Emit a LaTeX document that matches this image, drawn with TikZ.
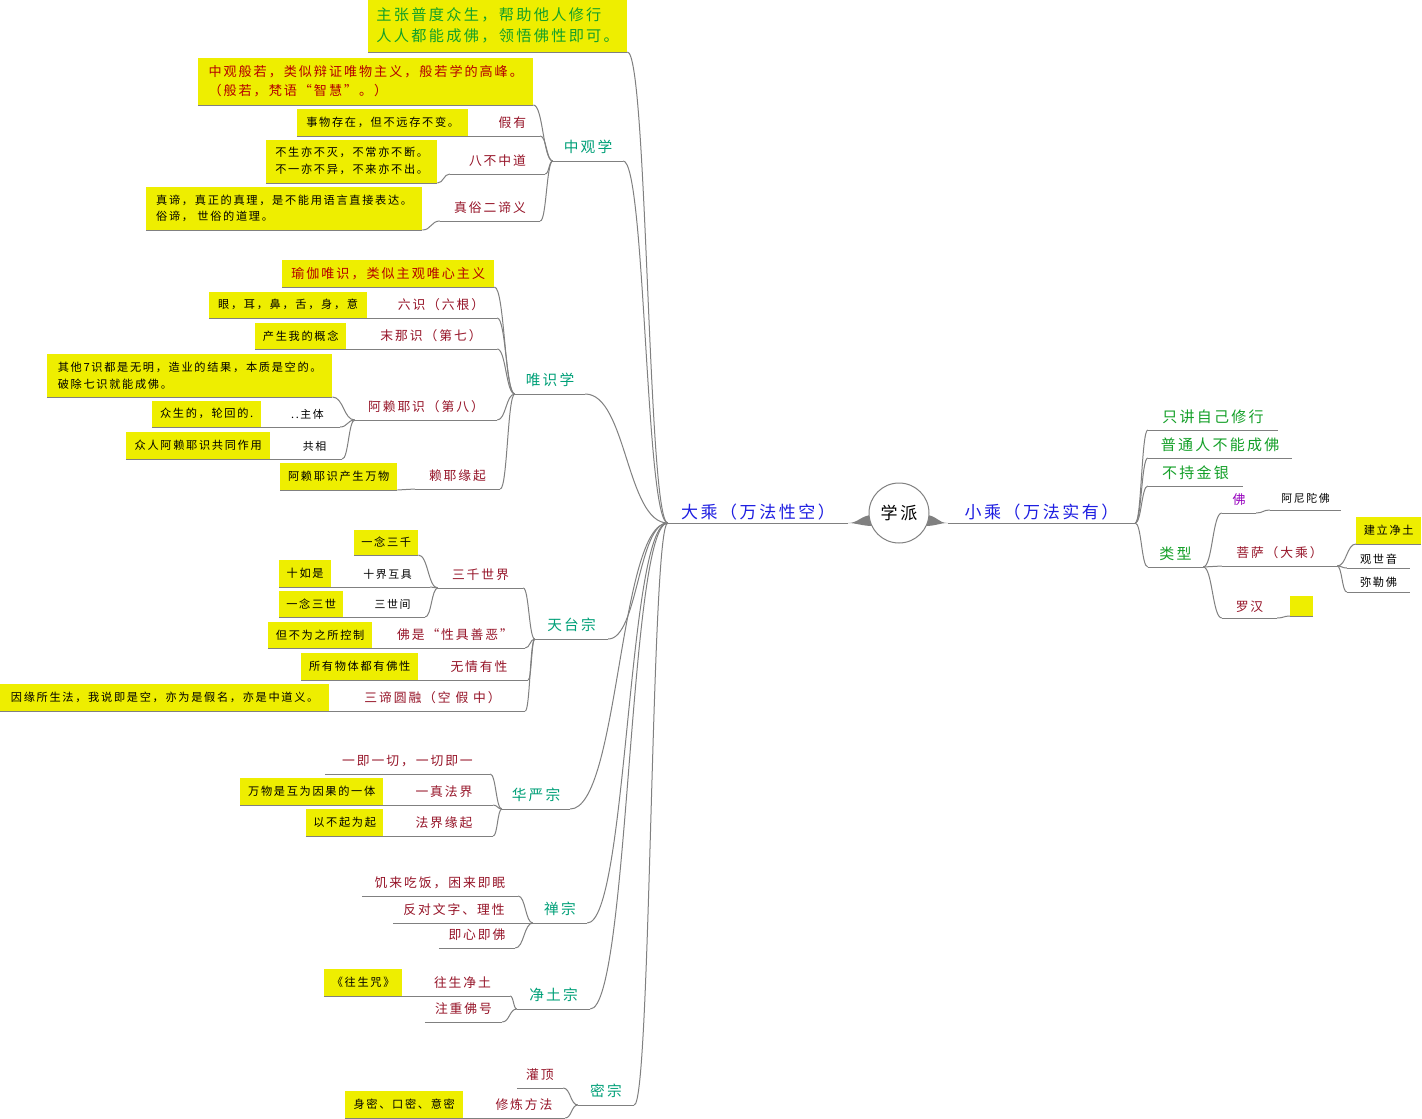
\documentclass[tikz,border=0pt]{standalone}
\usepackage{fontspec}
\setmainfont{Noto Sans CJK SC}[LetterSpace=15]
\usetikzlibrary{calc,backgrounds}

\definecolor{linegray}{RGB}{128,128,128}
\definecolor{boxyellow}{RGB}{238,238,0}
\definecolor{bluetxt}{RGB}{30,30,225}
\definecolor{tealtxt}{RGB}{0,160,120}
\definecolor{maroontxt}{RGB}{150,20,40}
\definecolor{redtxt}{RGB}{180,0,0}
\definecolor{greentxt}{RGB}{20,160,40}
\definecolor{purpletxt}{RGB}{150,0,190}

\newcommand\fsz[1]{\fontsize{#1}{#1}\selectfont}
% curved branch from the end of one underline to the start of the next
\newcommand\tie[2]{\draw[conn] let \p1=(#1), \p2=(#2), \n1={0.5*(\x2-\x1)} in (\p1) .. controls +(\n1,0) and +(-\n1,0) .. (\p2);}

\tikzset{
  conn/.style={draw=linegray, line width=1pt},
  root/.style={circle, draw=linegray, line width=1pt, fill=white, minimum size=60pt, inner sep=0pt, font=\fsz{17}},
  lvlone/.style={anchor=south, inner sep=0pt, minimum height=22pt, text=bluetxt, font=\fsz{17}},
  lvltwo/.style={anchor=south, inner sep=0pt, minimum height=28pt, text=tealtxt, font=\fsz{14.7}},
  lvlthree/.style={anchor=south, inner sep=0pt, minimum height=26pt, text=maroontxt, font=\fsz{12.8}},
  lvlfour/.style={anchor=south, inner sep=0pt, minimum height=24pt, text=black, font=\fsz{10.9}},
  rgreen/.style={anchor=south, inner sep=0pt, minimum height=26pt, text=greentxt, font=\fsz{15}},
  note/.style={anchor=south west, inner sep=0pt, fill=boxyellow, text=black, font=\fsz{11.2}, align=left},
}

\begin{document}
\begin{tikzpicture}[x=1pt,y=-1pt]
\useasboundingbox (0,0) rectangle (1422,1119);

% centre
\node[root] (root) at (899,513) {学派};
\node[lvlone, minimum width=180pt] (dc) at (758,523) {大乘（万法性空）};
\node[lvlone, minimum width=187pt] (xc) at (1041.5,523) {小乘（万法实有）};

% schools of the Mahayana
\node[note, minimum width=259pt, minimum height=52pt, text=greentxt, font=\fontsize{15.2}{21}\selectfont] (b1) at (368,52) {主张普度众生，帮助他人修行\\人人都能成佛，领悟佛性即可。};
\node[lvltwo, minimum width=70pt] (zg) at (588,161) {中观学};
\node[lvltwo, minimum width=70pt] (wsx) at (550,394) {唯识学};
\node[lvltwo, minimum width=73pt] (tt) at (571.5,639) {天台宗};
\node[lvltwo, minimum width=68pt] (hy) at (536,809) {华严宗};
\node[lvltwo, minimum width=54pt] (cz) at (560,923) {禅宗};
\node[lvltwo, minimum width=73pt] (jt) at (553.5,1009) {净土宗};
\node[lvltwo, minimum width=56pt] (mz) at (606,1105) {密宗};

% Madhyamaka
\node[note, minimum width=335pt, minimum height=47pt, text=redtxt, font=\fontsize{13.1}{19}\selectfont] (b2) at (198,105) {中观般若，类似辩证唯物主义，般若学的高峰。\\（般若，梵语“智慧”。）};
\node[lvlthree, minimum width=55pt] (jy) at (512.5,136) {假有};
\node[lvlthree, minimum width=95pt] (bb) at (497.5,174) {八不中道};
\node[lvlthree, minimum width=100pt] (zs) at (490,221) {真俗二谛义};
\node[note, minimum width=171pt, minimum height=27pt] (b3) at (297,136) {事物存在，但不远存不变。};
\node[note, minimum width=171pt, minimum height=43pt, font=\fontsize{11.2}{17}\selectfont] (b4) at (266,183) {不生亦不灭，不常亦不断。\\不一亦不异，不来亦不出。};
\node[note, minimum width=276pt, minimum height=43pt, font=\fontsize{11.2}{16}\selectfont] (b5) at (146,230) {真谛，真正的真理，是不能用语言直接表达。\\俗谛， 世俗的道理。};

% Yogacara
\node[note, minimum width=212pt, minimum height=27pt, text=redtxt, font=\fsz{13.1}] (b6) at (282,287) {瑜伽唯识，类似主观唯心主义};
\node[lvlthree, minimum width=112pt] (lsh) at (441,318) {六识（六根）};
\node[lvlthree, minimum width=132pt] (mn) at (431,349) {末那识（第七）};
\node[lvlthree, minimum width=142pt] (al) at (426,420) {阿赖耶识（第八）};
\node[lvlthree, minimum width=85pt] (ly) at (457.5,489) {赖耶缘起};
\node[note, minimum width=158pt, minimum height=26pt] (b7) at (209,318) {眼，耳，鼻，舌，身，意};
\node[note, minimum width=91pt, minimum height=26pt] (b8) at (255,349) {产生我的概念};
\node[note, minimum width=285pt, minimum height=43pt, font=\fontsize{11.2}{17}\selectfont] (b9) at (47,397) {其他7识都是无明，造业的结果，本质是空的。\\破除七识就能成佛。};
\node[lvlfour, minimum width=65pt] (zt) at (307.5,427) {..主体};
\node[lvlfour, minimum width=55pt] (gx) at (314.5,459) {共相};
\node[note, minimum width=109pt, minimum height=26pt] (b10) at (152,427) {众生的，轮回的.};
\node[note, minimum width=144pt, minimum height=27pt] (b11) at (126,459) {众人阿赖耶识共同作用};
\node[note, minimum width=117pt, minimum height=27pt] (b12) at (280,490) {阿赖耶识产生万物};

% Tiantai
\node[lvlthree, minimum width=85pt] (sq) at (480.5,588) {三千世界};
\node[lvlthree, minimum width=140pt] (fs) at (455,648) {佛是“性具善恶”};
\node[lvlthree, minimum width=98pt] (wq) at (479,680) {无情有性};
\node[lvlthree, minimum width=185pt] (sd) at (432.5,711) {三谛圆融（空 假 中）};
\node[lvlfour, minimum width=85pt] (sj) at (387.5,587) {十界互具};
\node[lvlfour, minimum width=65pt] (ss) at (392.5,617) {三世间};
\node[note, minimum width=64pt, minimum height=25pt] (b13) at (354,555) {一念三千};
\node[note, minimum width=52pt, minimum height=27pt] (b14) at (279,587) {十如是};
\node[note, minimum width=64pt, minimum height=26pt] (b15) at (279,617) {一念三世};
\node[note, minimum width=104pt, minimum height=26pt] (b16) at (268,648) {但不为之所控制};
\node[note, minimum width=117pt, minimum height=27pt] (b17) at (301,680) {所有物体都有佛性};
\node[note, minimum width=329pt, minimum height=27pt] (b18) at (0,711) {因缘所生法，我说即是空，亦为是假名，亦是中道义。};

% Huayan
\node[lvlthree, minimum width=165pt] (yj) at (407.5,774) {一即一切，一切即一};
\node[lvlthree, minimum width=98pt] (yz) at (444,805) {一真法界};
\node[lvlthree, minimum width=98pt] (fj) at (444,836) {法界缘起};
\node[note, minimum width=143pt, minimum height=27pt] (b19) at (240,805) {万物是互为因果的一体};
\node[note, minimum width=77pt, minimum height=27pt] (b20) at (306,836) {以不起为起};

% Chan
\node[lvlthree, minimum width=156pt] (jl) at (440,896) {饥来吃饭，困来即眠};
\node[lvlthree, minimum width=122pt] (fd) at (454,923) {反对文字、理性};
\node[lvlthree, minimum width=76pt] (jx) at (477,948) {即心即佛};

% Pure Land
\node[lvlthree, minimum width=95pt] (ws) at (462.5,996) {往生净土};
\node[lvlthree, minimum width=77pt] (zz) at (463.5,1022) {注重佛号};
\node[note, minimum width=78pt, minimum height=27pt] (b21) at (324,996) {《往生咒》};

% Esoteric
\node[lvlthree, minimum width=46pt] (gd) at (540,1088) {灌顶};
\node[lvlthree, minimum width=82pt] (xl) at (524,1118) {修炼方法};
\node[note, minimum width=118pt, minimum height=27pt] (b22) at (345,1118) {身密、口密、意密};

% Hinayana
\node[rgreen, minimum width=130pt] (zj) at (1213,430) {只讲自己修行};
\node[rgreen, minimum width=144pt] (pt) at (1220,458) {普通人不能成佛};
\node[rgreen, minimum width=95pt] (bc) at (1195.5,486) {不持金银};
\node[rgreen, minimum width=55pt] (lx) at (1175.5,567) {类型};
\node[lvlthree, minimum width=34pt, text=purpletxt, font=\fsz{13}] (fo) at (1239,513) {佛};
\node[lvlfour, minimum width=71pt, minimum height=22pt] (am) at (1305.5,510) {阿尼陀佛};
\node[lvlthree, minimum width=115pt] (ps) at (1279.5,566) {菩萨（大乘）};
\node[lvlthree, minimum width=55pt, minimum height=22pt] (lh) at (1249.5,618) {罗汉};
\node[lvlfour, minimum width=63pt, minimum height=18pt, font=\fsz{11.2}] (gs) at (1378.5,568) {观世音};
\node[lvlfour, minimum width=63pt, minimum height=20pt, font=\fsz{11.2}] (ml) at (1378.5,592) {弥勒佛};
\node[note, minimum width=65pt, minimum height=27pt] (b23) at (1356,544) {建立净土};
\node[note, minimum width=23pt, minimum height=20pt] (b24) at (1290,616) {};

% underlines
\foreach \n in {dc,xc,b1,zg,wsx,tt,hy,cz,jt,mz,b2,jy,bb,zs,b3,b4,b5,b6,lsh,mn,al,ly,b7,b8,b9,zt,gx,b10,b11,b12,
  sq,fs,wq,sd,sj,ss,b13,b14,b15,b16,b17,b18,yj,yz,fj,b19,b20,jl,fd,jx,ws,zz,b21,gd,xl,b22,
  zj,pt,bc,lx,fo,am,ps,lh,gs,ml,b23,b24}
  \draw[conn] (\n.south west) -- (\n.south east);

% branches of the left half
\foreach \c in {b1,zg,wsx,tt,hy,cz,jt,mz} {\tie{\c.south east}{dc.south west}}
\foreach \c in {b2,jy,bb,zs} {\tie{\c.south east}{zg.south west}}
\tie{b3.south east}{jy.south west}
\tie{b4.south east}{bb.south west}
\tie{b5.south east}{zs.south west}
\foreach \c in {b6,lsh,mn,al,ly} {\tie{\c.south east}{wsx.south west}}
\tie{b7.south east}{lsh.south west}
\tie{b8.south east}{mn.south west}
\foreach \c in {b9,zt,gx} {\tie{\c.south east}{al.south west}}
\tie{b10.south east}{zt.south west}
\tie{b11.south east}{gx.south west}
\tie{b12.south east}{ly.south west}
\foreach \c in {sq,fs,wq,sd} {\tie{\c.south east}{tt.south west}}
\foreach \c in {b13,sj,ss} {\tie{\c.south east}{sq.south west}}
\tie{b14.south east}{sj.south west}
\tie{b15.south east}{ss.south west}
\tie{b16.south east}{fs.south west}
\tie{b17.south east}{wq.south west}
\tie{b18.south east}{sd.south west}
\foreach \c in {yj,yz,fj} {\tie{\c.south east}{hy.south west}}
\tie{b19.south east}{yz.south west}
\tie{b20.south east}{fj.south west}
\foreach \c in {jl,fd,jx} {\tie{\c.south east}{cz.south west}}
\foreach \c in {ws,zz} {\tie{\c.south east}{jt.south west}}
\tie{b21.south east}{ws.south west}
\foreach \c in {gd,xl} {\tie{\c.south east}{mz.south west}}
\tie{b22.south east}{xl.south west}

% branches of the right half
\foreach \c in {zj,pt,bc,lx} {\tie{xc.south east}{\c.south west}}
\foreach \c in {fo,ps,lh} {\tie{lx.south east}{\c.south west}}
\tie{fo.south east}{am.south west}
\foreach \c in {b23,gs,ml} {\tie{ps.south east}{\c.south west}}
\tie{lh.south east}{b24.south west}

% tapered stems joining the centre circle
\begin{scope}[on background layer]
  \fill[white] (0,0) rectangle (1422,1119);
  \fill[linegray] (dc.south east) .. controls +(10,0) and +(-11,0) .. ([xshift=4pt,yshift=-2pt]root.west)
    -- ([xshift=4pt,yshift=-13pt]root.west) .. controls +(-10,0) and +(8,0) .. (dc.south east) -- cycle;
  \fill[linegray] (xc.south west) .. controls +(-10,0) and +(11,0) .. ([xshift=-4pt,yshift=-2pt]root.east)
    -- ([xshift=-4pt,yshift=-13pt]root.east) .. controls +(10,0) and +(-8,0) .. (xc.south west) -- cycle;
\end{scope}
\end{tikzpicture}
\end{document}
